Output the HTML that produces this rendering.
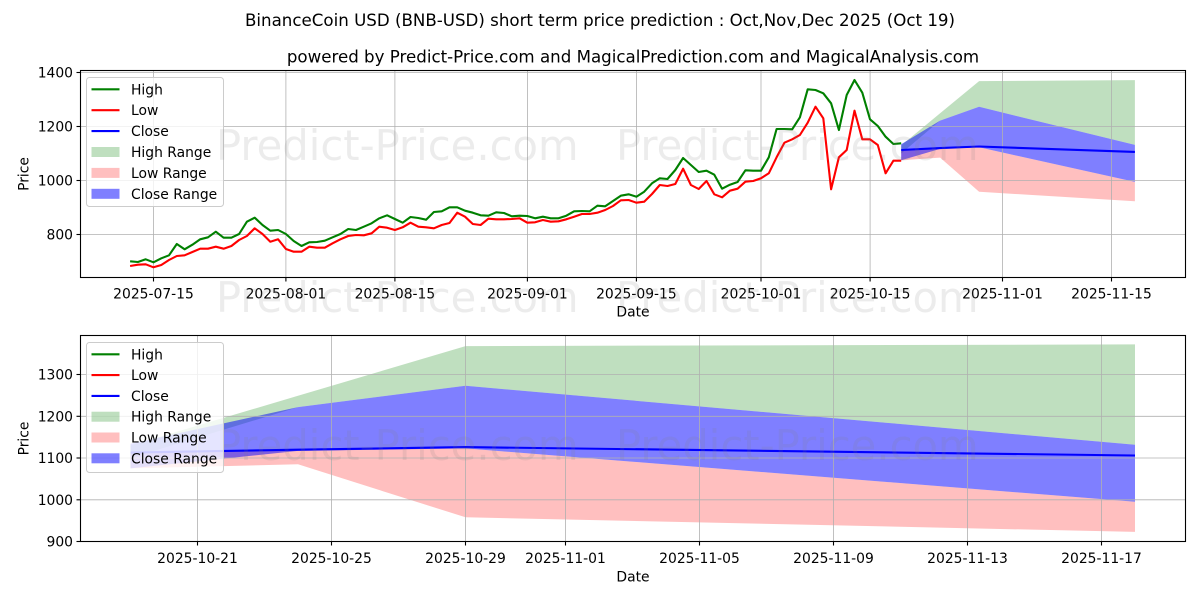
<!DOCTYPE html>
<html><head><meta charset="utf-8"><style>
html,body{margin:0;padding:0;background:#fff;}
svg{display:block;}
text{font-family:"DejaVu Sans","Liberation Sans",sans-serif;}
</style></head><body>
<svg width="1200" height="600" viewBox="0 0 1200 600" xmlns="http://www.w3.org/2000/svg">
<defs>
<clipPath id="c1"><rect x="80.5" y="70.5" width="1105" height="207"/></clipPath>
<clipPath id="c2"><rect x="80.5" y="335.5" width="1105" height="206"/></clipPath>
</defs>
<rect width="1200" height="600" fill="#fff"/>

<text x="600" y="26" font-size="16.67" text-anchor="middle">BinanceCoin USD (BNB-USD) short term price prediction : Oct,Nov,Dec 2025 (Oct 19)</text>
<text x="633" y="62.5" font-size="16.67" text-anchor="middle">powered by Predict-Price.com and MagicalPrediction.com and MagicalAnalysis.com</text>

<!-- ===== TOP CHART ===== -->
<g clip-path="url(#c1)">
<polygon fill="green" fill-opacity="0.25" points="901.2,145.4 940.1,113.3 979.1,81.1 1134.9,80.1 1134.9,144.9 979.1,106.8 940.1,120.6 901.2,153.5"/>
<polygon fill="red" fill-opacity="0.25" points="901.2,150.8 940.1,148.1 979.1,147.3 1134.9,181.9 1134.9,201.3 979.1,191.8 940.1,157.6 901.2,160.3"/>
<polygon fill="blue" fill-opacity="0.5" points="901.2,144.3 940.1,120.6 979.1,106.8 1134.9,144.9 1134.9,181.9 979.1,147.3 940.1,148.9 901.2,160.3"/>
<g stroke="#b0b0b0" stroke-width="0.8">
<line x1="153.5" y1="70.5" x2="153.5" y2="277.5"/>
<line x1="285.9" y1="70.5" x2="285.9" y2="277.5"/>
<line x1="394.9" y1="70.5" x2="394.9" y2="277.5"/>
<line x1="527.4" y1="70.5" x2="527.4" y2="277.5"/>
<line x1="636.4" y1="70.5" x2="636.4" y2="277.5"/>
<line x1="761.0" y1="70.5" x2="761.0" y2="277.5"/>
<line x1="870.1" y1="70.5" x2="870.1" y2="277.5"/>
<line x1="1002.5" y1="70.5" x2="1002.5" y2="277.5"/>
<line x1="1111.5" y1="70.5" x2="1111.5" y2="277.5"/>
<line x1="80.5" y1="72.5" x2="1185.5" y2="72.5"/>
<line x1="80.5" y1="126.5" x2="1185.5" y2="126.5"/>
<line x1="80.5" y1="180.5" x2="1185.5" y2="180.5"/>
<line x1="80.5" y1="234.5" x2="1185.5" y2="234.5"/>
</g>
<polyline fill="none" stroke="green" stroke-width="2.1" stroke-linejoin="round" points="130.1,261.3 137.9,262 145.7,259.3 153.5,262.3 161.3,258.3 169.0,255.3 176.8,244 184.6,249.3 192.4,244.7 200.2,239.3 208.0,237.3 215.8,231.7 223.6,237.7 231.4,237.7 239.1,234 246.9,221.7 254.7,217.7 262.5,225 270.3,230.7 278.1,230 285.9,234 293.7,241 301.5,246 309.2,242.3 317.0,242 324.8,240.7 332.6,237.3 340.4,234 348.2,229 356.0,230 363.8,226.7 371.6,223.3 379.3,218.3 387.1,215.3 394.9,219 402.7,222.7 410.5,217 418.3,218 426.1,219.7 433.9,212 441.7,211.3 449.5,207.3 457.2,207.3 465.0,210.7 472.8,212.7 480.6,215.3 488.4,215.7 496.2,212.3 504.0,213 511.8,216.3 519.6,215.7 527.3,216 535.1,218.3 542.9,216.7 550.7,218.3 558.5,218.3 566.3,215.7 574.1,211.3 581.9,211 589.6,211.3 597.4,205.7 605.2,206.3 613.0,201 620.8,195.7 628.6,194.3 636.4,196.7 644.2,191.7 652.0,183.3 659.8,178.3 667.5,179 675.3,170 683.1,158 690.9,165 698.7,172 706.5,170.7 714.3,174.7 722.1,188.7 729.9,184.7 737.6,182 745.4,170.3 753.2,170.7 761.0,170.7 768.8,157.3 776.6,129 784.4,129 792.2,129.3 799.9,117.3 807.7,89.3 815.5,90 823.3,93.3 831.1,103.3 838.9,130 846.7,95 854.5,80 862.3,92.7 870.0,119.3 877.8,126 885.6,136.7 893.4,144 901.2,143.3"/>
<polyline fill="none" stroke="red" stroke-width="2.1" stroke-linejoin="round" points="130.1,266 137.9,264.7 145.7,264.3 153.5,267.3 161.3,265 169.0,260 176.8,256 184.6,255.3 192.4,252 200.2,248.7 208.0,248.7 215.8,246.7 223.6,248.7 231.4,246 239.1,240 246.9,236 254.7,228.3 262.5,234 270.3,241.7 278.1,239.3 285.9,249 293.7,251.7 301.5,251.7 309.2,246.7 317.0,247.7 324.8,247.7 332.6,243.3 340.4,239.3 348.2,236 356.0,235 363.8,235.3 371.6,233.3 379.3,226.7 387.1,227.7 394.9,230 402.7,227.3 410.5,222.7 418.3,226.7 426.1,227.3 433.9,228.3 441.7,225 449.5,223 457.2,212.7 465.0,216.7 472.8,224 480.6,225 488.4,218.7 496.2,219.3 504.0,219.3 511.8,219 519.6,218.3 527.3,222.7 535.1,222.3 542.9,220 550.7,221.7 558.5,221.3 566.3,219.3 574.1,216.7 581.9,214 589.6,214 597.4,212.7 605.2,210 613.0,206 620.8,200.3 628.6,200 636.4,202.7 644.2,201.7 652.0,194 659.8,185 667.5,186 675.3,184 683.1,168.7 690.9,185 698.7,189 706.5,181 714.3,194.3 722.1,197.3 729.9,190.7 737.6,188.7 745.4,181.7 753.2,181 761.0,178.3 768.8,173.3 776.6,157.3 784.4,142.7 792.2,139.3 799.9,135 807.7,122.7 815.5,106.7 823.3,118.3 831.1,189.3 838.9,157.3 846.7,150 854.5,110.7 862.3,139.3 870.0,139.3 877.8,145 885.6,173.3 893.4,160.7 901.2,160.7"/>
<polyline fill="none" stroke="blue" stroke-width="2.1" stroke-linejoin="round" points="901.2,150.0 940.1,148.1 979.1,146.5 1134.9,151.9"/>
</g>
<!-- top spines & ticks -->
<rect x="80.5" y="70.5" width="1105" height="207" fill="none" stroke="#000" stroke-width="1.1"/>
<g stroke="#000" stroke-width="1.1">
<line x1="76.5" y1="72.5" x2="80.5" y2="72.5"/>
<line x1="76.5" y1="126.5" x2="80.5" y2="126.5"/>
<line x1="76.5" y1="180.5" x2="80.5" y2="180.5"/>
<line x1="76.5" y1="234.5" x2="80.5" y2="234.5"/>
<line x1="153.5" y1="277.5" x2="153.5" y2="281.5"/>
<line x1="285.9" y1="277.5" x2="285.9" y2="281.5"/>
<line x1="394.9" y1="277.5" x2="394.9" y2="281.5"/>
<line x1="527.4" y1="277.5" x2="527.4" y2="281.5"/>
<line x1="636.4" y1="277.5" x2="636.4" y2="281.5"/>
<line x1="761.0" y1="277.5" x2="761.0" y2="281.5"/>
<line x1="870.1" y1="277.5" x2="870.1" y2="281.5"/>
<line x1="1002.5" y1="277.5" x2="1002.5" y2="281.5"/>
<line x1="1111.5" y1="277.5" x2="1111.5" y2="281.5"/>
</g>
<g font-size="13.89" text-anchor="end">
<text x="73" y="77.5">1400</text>
<text x="73" y="131.5">1200</text>
<text x="73" y="185.5">1000</text>
<text x="73" y="239.5">800</text>
</g>
<g font-size="13.89" text-anchor="middle">
<text x="153.5" y="298.5">2025-07-15</text>
<text x="285.9" y="298.5">2025-08-01</text>
<text x="394.9" y="298.5">2025-08-15</text>
<text x="527.4" y="298.5">2025-09-01</text>
<text x="636.4" y="298.5">2025-09-15</text>
<text x="761.0" y="298.5">2025-10-01</text>
<text x="870.1" y="298.5">2025-10-15</text>
<text x="1002.5" y="298.5">2025-11-01</text>
<text x="1111.5" y="298.5">2025-11-15</text>
<text x="633" y="316.7">Date</text>
</g>
<text transform="translate(28.3,174) rotate(-90)" font-size="13.89" text-anchor="middle">Price</text>

<!-- top legend -->
<rect x="86.5" y="77.5" width="137" height="129" rx="3" fill="#fff" fill-opacity="0.8" stroke="#cccccc" stroke-width="1"/>
<g stroke-width="2.1">
<line x1="91.5" y1="89.3" x2="119.5" y2="89.3" stroke="green"/>
<line x1="91.5" y1="110.2" x2="119.5" y2="110.2" stroke="red"/>
<line x1="91.5" y1="131.1" x2="119.5" y2="131.1" stroke="blue"/>
</g>
<rect x="91.5" y="147" width="28" height="10" fill="green" fill-opacity="0.25"/>
<rect x="91.5" y="167.9" width="28" height="10" fill="red" fill-opacity="0.25"/>
<rect x="91.5" y="188.8" width="28" height="10" fill="blue" fill-opacity="0.5"/>
<g font-size="13.89">
<text x="131" y="94.3">High</text>
<text x="131" y="115.2">Low</text>
<text x="131" y="136.1">Close</text>
<text x="131" y="157">High Range</text>
<text x="131" y="177.9">Low Range</text>
<text x="131" y="198.8">Close Range</text>
</g>

<!-- ===== BOTTOM CHART ===== -->
<g clip-path="url(#c2)">
<polygon fill="green" fill-opacity="0.25" points="130.5,445.5 298,395.8 465.5,346.1 1135,344.4 1135,444.7 465.5,385.8 298,407.1 130.5,458.0"/>
<polygon fill="red" fill-opacity="0.25" points="130.5,453.8 298,449.7 465.5,448.4 1135,501.8 1135,531.9 465.5,517.3 298,464.3 130.5,468.4"/>
<polygon fill="blue" fill-opacity="0.5" points="130.5,443.8 298,407.1 465.5,385.8 1135,444.7 1135,501.8 465.5,448.4 298,450.9 130.5,468.4"/>
<g stroke="#b0b0b0" stroke-width="0.8">
<line x1="197.5" y1="335.5" x2="197.5" y2="541.5"/>
<line x1="331.5" y1="335.5" x2="331.5" y2="541.5"/>
<line x1="465.5" y1="335.5" x2="465.5" y2="541.5"/>
<line x1="565.5" y1="335.5" x2="565.5" y2="541.5"/>
<line x1="699.5" y1="335.5" x2="699.5" y2="541.5"/>
<line x1="833.5" y1="335.5" x2="833.5" y2="541.5"/>
<line x1="967.5" y1="335.5" x2="967.5" y2="541.5"/>
<line x1="1101.5" y1="335.5" x2="1101.5" y2="541.5"/>
<line x1="80.5" y1="374.5" x2="1185.5" y2="374.5"/>
<line x1="80.5" y1="416.3" x2="1185.5" y2="416.3"/>
<line x1="80.5" y1="458.0" x2="1185.5" y2="458.0"/>
<line x1="80.5" y1="499.8" x2="1185.5" y2="499.8"/>
</g>
<polyline fill="none" stroke="blue" stroke-width="2.1" stroke-linejoin="round" points="130.5,452.6 298,449.7 465.5,447.1 1135,455.5"/>
</g>
<rect x="80.5" y="335.5" width="1105" height="206" fill="none" stroke="#000" stroke-width="1.1"/>
<g stroke="#000" stroke-width="1.1">
<line x1="76.5" y1="374.5" x2="80.5" y2="374.5"/>
<line x1="76.5" y1="416.3" x2="80.5" y2="416.3"/>
<line x1="76.5" y1="458.0" x2="80.5" y2="458.0"/>
<line x1="76.5" y1="499.8" x2="80.5" y2="499.8"/>
<line x1="76.5" y1="541.5" x2="80.5" y2="541.5"/>
<line x1="197.5" y1="541.5" x2="197.5" y2="545.5"/>
<line x1="331.5" y1="541.5" x2="331.5" y2="545.5"/>
<line x1="465.5" y1="541.5" x2="465.5" y2="545.5"/>
<line x1="565.5" y1="541.5" x2="565.5" y2="545.5"/>
<line x1="699.5" y1="541.5" x2="699.5" y2="545.5"/>
<line x1="833.5" y1="541.5" x2="833.5" y2="545.5"/>
<line x1="967.5" y1="541.5" x2="967.5" y2="545.5"/>
<line x1="1101.5" y1="541.5" x2="1101.5" y2="545.5"/>
</g>
<g font-size="13.89" text-anchor="end">
<text x="73" y="379.5">1300</text>
<text x="73" y="421.3">1200</text>
<text x="73" y="463">1100</text>
<text x="73" y="504.8">1000</text>
<text x="73" y="546.5">900</text>
</g>
<g font-size="13.89" text-anchor="middle">
<text x="197.5" y="563">2025-10-21</text>
<text x="331.5" y="563">2025-10-25</text>
<text x="465.5" y="563">2025-10-29</text>
<text x="565.5" y="563">2025-11-01</text>
<text x="699.5" y="563">2025-11-05</text>
<text x="833.5" y="563">2025-11-09</text>
<text x="967.5" y="563">2025-11-13</text>
<text x="1101.5" y="563">2025-11-17</text>
<text x="633" y="581.5">Date</text>
</g>
<text transform="translate(28.3,438.5) rotate(-90)" font-size="13.89" text-anchor="middle">Price</text>

<!-- watermarks -->
<g font-size="41.7" fill="#808080" fill-opacity="0.15">
<text x="216" y="160">Predict-Price.com</text>
<text x="616" y="160">Predict-Price.com</text>
<text x="216" y="312">Predict-Price.com</text>
<text x="616" y="312">Predict-Price.com</text>
<text x="216" y="460">Predict-Price.com</text>
<text x="616" y="460">Predict-Price.com</text>
</g>

<!-- bottom legend -->
<rect x="86.5" y="342.5" width="137" height="130" rx="3" fill="#fff" fill-opacity="0.8" stroke="#cccccc" stroke-width="1"/>
<g stroke-width="2.1">
<line x1="91.5" y1="354.3" x2="119.5" y2="354.3" stroke="green"/>
<line x1="91.5" y1="375.1" x2="119.5" y2="375.1" stroke="red"/>
<line x1="91.5" y1="395.9" x2="119.5" y2="395.9" stroke="blue"/>
</g>
<rect x="91.5" y="411.7" width="28" height="10" fill="green" fill-opacity="0.25"/>
<rect x="91.5" y="432.5" width="28" height="10" fill="red" fill-opacity="0.25"/>
<rect x="91.5" y="453.3" width="28" height="10" fill="blue" fill-opacity="0.5"/>
<g font-size="13.89">
<text x="131" y="359.3">High</text>
<text x="131" y="380.1">Low</text>
<text x="131" y="400.9">Close</text>
<text x="131" y="421.7">High Range</text>
<text x="131" y="442.5">Low Range</text>
<text x="131" y="463.3">Close Range</text>
</g>
</svg>
</body></html>
